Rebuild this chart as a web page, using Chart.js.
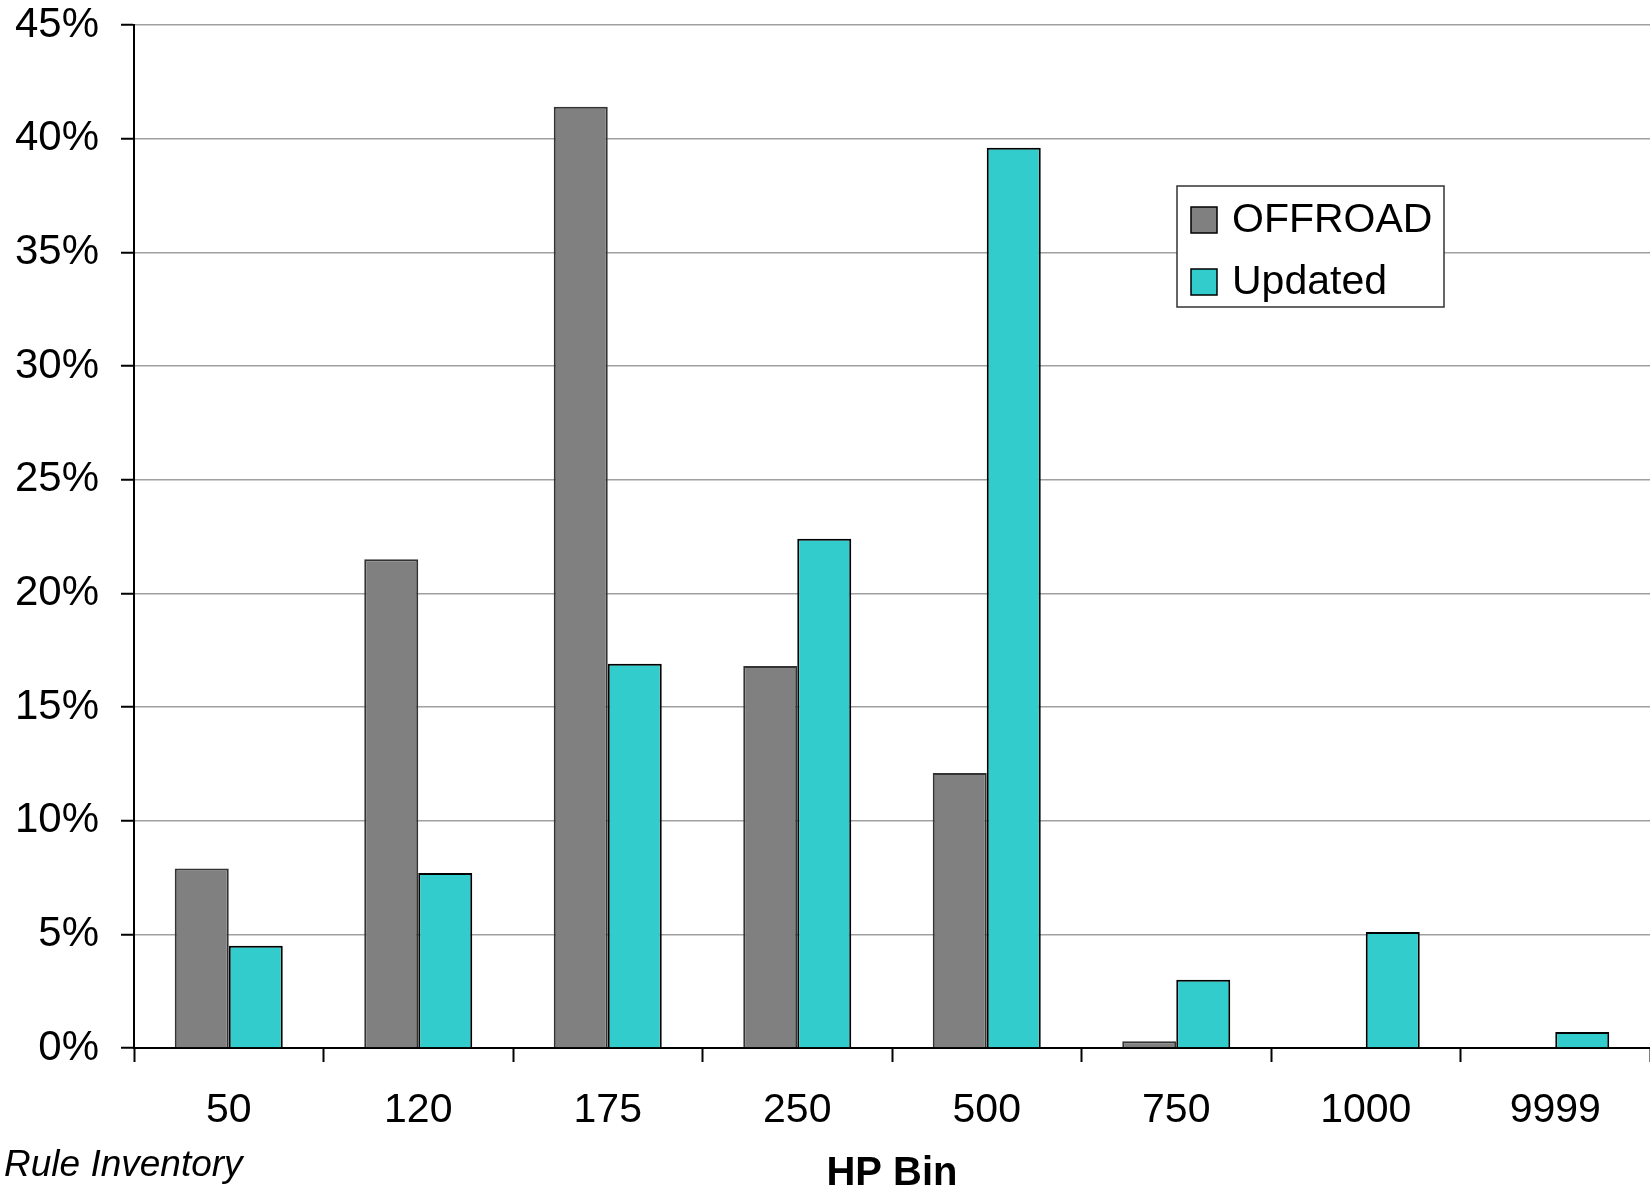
<!DOCTYPE html>
<html>
<head>
<meta charset="utf-8">
<script src="https://cdn.jsdelivr.net/npm/chart.js@4.4.1/dist/chart.umd.min.js"></script>
<style>
  html, body { margin: 0; padding: 0; background: #fff; }
  #wrap { width: 1650px; height: 1192px; position: relative; }
</style>
</head>
<body>
<div id="wrap"><canvas id="c" width="1650" height="1192"></canvas></div>
<script>
const categories = ['50', '120', '175', '250', '500', '750', '1000', '9999'];
const offroadValues = [7.9, 21.5, 41.4, 16.8, 12.1, 0.3, 0, 0];
const updatedValues = [4.5, 7.7, 16.9, 22.4, 39.6, 3.0, 5.1, 0.7];
const seriesNames = ['OFFROAD', 'Updated'];
const yMax = 45;
const yStep = 5;
const xAxisTitle = 'HP Bin';
const footnote = 'Rule Inventory';

const FONT = '"Liberation Sans", Arial, sans-serif';

const overlayPlugin = {
  id: 'overlay',
  afterDraw(chart) {
    const ctx = chart.ctx;
    const area = chart.chartArea;
    ctx.save();
    // Legend box
    const bx = 1177, by = 186, bw = 267, bh = 121;
    ctx.fillStyle = '#fff';
    ctx.fillRect(bx, by, bw, bh);
    ctx.strokeStyle = '#333';
    ctx.lineWidth = 1.5;
    ctx.strokeRect(bx, by, bw, bh);
    const rows = [220, 282];
    chart.data.datasets.forEach((ds, i) => {
      const cy = rows[i];
      ctx.fillStyle = ds.backgroundColor;
      ctx.fillRect(bx + 14, cy - 13, 26, 26);
      ctx.strokeStyle = '#000';
      ctx.lineWidth = 1.5;
      ctx.strokeRect(bx + 14, cy - 13, 26, 26);
      ctx.fillStyle = '#000';
      ctx.font = '41px ' + FONT;
      ctx.textAlign = 'left';
      ctx.textBaseline = 'middle';
      ctx.fillText(ds.label, bx + 55, cy + 1);
    });
    // Axis title
    ctx.fillStyle = '#000';
    ctx.font = 'bold 40px ' + FONT;
    ctx.textAlign = 'center';
    ctx.textBaseline = 'middle';
    ctx.fillText(xAxisTitle, (area.left + area.right) / 2, 1174);
    // Footnote
    ctx.font = 'italic 37px ' + FONT;
    ctx.textAlign = 'left';
    ctx.fillText(footnote, 4, 1166);
    ctx.restore();
  }
};

new Chart(document.getElementById('c'), {
  type: 'bar',
  data: {
    labels: categories,
    datasets: [
      {
        label: seriesNames[0],
        data: offroadValues,
        backgroundColor: '#808080',
        borderColor: '#333',
        borderWidth: 2,
        categoryPercentage: 0.57,
        barPercentage: 1.0
      },
      {
        label: seriesNames[1],
        data: updatedValues,
        backgroundColor: '#33CCCC',
        borderColor: '#000',
        borderWidth: 2,
        categoryPercentage: 0.57,
        barPercentage: 1.0
      }
    ]
  },
  options: {
    responsive: false,
    animation: false,
    devicePixelRatio: 1,
    layout: { padding: { top: 25, right: 0, left: 0, bottom: 0 } },
    plugins: {
      legend: { display: false },
      tooltip: { enabled: false }
    },
    scales: {
      x: {
        offset: true,
        grid: {
          offset: true,
          drawOnChartArea: false,
          drawTicks: true,
          tickLength: 14,
          tickColor: '#000',
          tickWidth: 2
        },
        border: { color: '#000', width: 2 },
        ticks: {
          color: '#000',
          font: { family: FONT, size: 41 },
          padding: 24,
          maxRotation: 0,
          autoSkip: false
        },
        afterFit(scale) {
          scale.height = 1192 - 1048;
          scale.paddingLeft = 0;
          scale.paddingRight = 0;
        }
      },
      y: {
        min: 0,
        max: yMax,
        ticks: {
          stepSize: yStep,
          color: '#000',
          font: { family: FONT, size: 42 },
          padding: 22,
          callback: (v) => v + '%'
        },
        grid: {
          color: '#a0a0a0',
          lineWidth: 1.5,
          tickLength: 13,
          tickColor: '#000',
          tickWidth: 2
        },
        border: { color: '#000', width: 2 },
        afterFit(scale) {
          scale.width = 134;
          scale.paddingTop = 0;
          scale.paddingBottom = 0;
        }
      }
    }
  },
  plugins: [overlayPlugin]
});
</script>
</body>
</html>
